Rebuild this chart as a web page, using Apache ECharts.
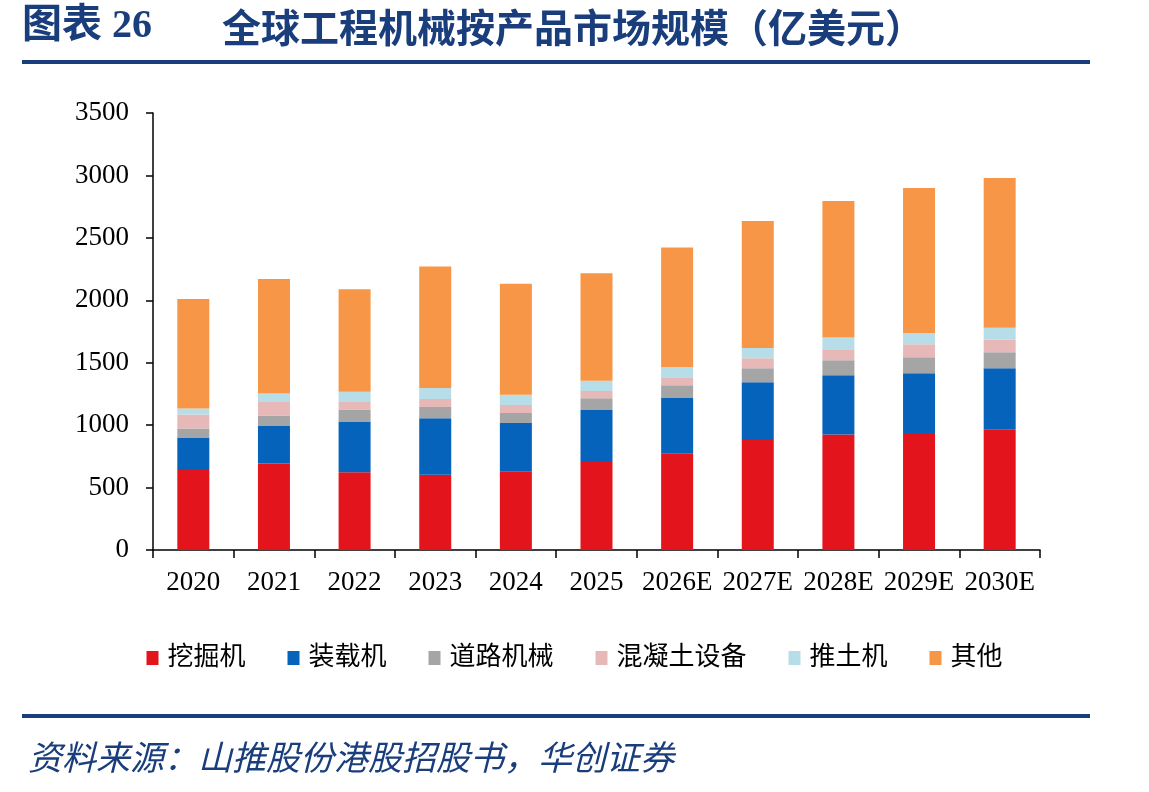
<!DOCTYPE html>
<html>
<head>
<meta charset="utf-8">
<script src="https://cdn.jsdelivr.net/npm/echarts@6/dist/echarts.min.js"></script>
<style>
  html, body { margin: 0; padding: 0; background: #fff; }
  #chart { width: 1149px; height: 792px; }
</style>
</head>
<body>
<div id="chart"></div>
<script>
// 年份
const years = ['2020', '2021', '2022', '2023', '2024', '2025', '2026E', '2027E', '2028E', '2029E', '2030E'];
// 各产品市场规模（亿美元）
const excavator = [640, 693, 623, 602, 627, 705, 774, 881, 926, 937, 964];
const loader    = [261, 304, 406, 454, 390, 416, 444, 462, 473, 478, 491];
const road      = [72, 81, 97, 89, 80, 94, 101, 112, 120, 128, 128];
const concrete  = [113, 107, 59, 64, 64, 59, 64, 80, 88, 104, 102];
const dozer     = [48, 69, 82, 88, 83, 82, 80, 83, 94, 91, 96];
const others    = [877, 916, 821, 973, 889, 860, 959, 1017, 1094, 1162, 1199];
const yTicks = [0, 500, 1000, 1500, 2000, 2500, 3000, 3500];

const names = ['挖掘机', '装载机', '道路机械', '混凝土设备', '推土机', '其他'];
const colors = ['#E3141C', '#0563BB', '#A5A5A5', '#E6B9B8', '#B7DEE8', '#F79646'];
const values = [excavator, loader, road, concrete, dozer, others];

const navy = '#1A3D7C';
const numFont = '"Liberation Serif", "Times New Roman", "Noto Sans CJK SC", serif';
const cjkFont = '"Liberation Serif", "Noto Sans CJK SC", sans-serif';

const myChart = echarts.init(document.getElementById('chart'));

const option = {
  animation: false,
  color: colors,
  graphic: [
    {
      type: 'text',
      left: 22,
      top: 7,
      style: {
        text: '图表 26',
        fill: navy,
        font: 'bold 40px "Liberation Serif", "Noto Sans CJK SC", sans-serif',
      },
    },
    {
      type: 'text',
      left: 222,
      top: 8,
      style: {
        text: '全球工程机械按产品市场规模（亿美元）',
        fill: navy,
        font: 'bold 39px "Noto Sans CJK SC", sans-serif',
      },
    },
    {
      type: 'line',
      shape: { x1: 22, y1: 62, x2: 1090, y2: 62 },
      style: { stroke: navy, lineWidth: 4 },
    },
    {
      type: 'line',
      shape: { x1: 22, y1: 716, x2: 1090, y2: 716 },
      style: { stroke: navy, lineWidth: 4 },
    },
    {
      type: 'text',
      left: 28,
      top: 740,
      style: {
        text: '资料来源：山推股份港股招股书，华创证券',
        fill: navy,
        font: 'italic 34px "Noto Sans CJK SC", sans-serif',
      },
    },
  ],
  legend: {
    top: 640,
    left: 'center',
    icon: 'rect',
    itemWidth: 12,
    itemHeight: 14,
    itemGap: 42,
    data: names,
    textStyle: {
      fontSize: 26,
      color: '#000',
      fontFamily: cjkFont,
      padding: [0, 0, 0, 4],
    },
  },
  grid: {
    left: 153,
    right: 109,
    top: 113,
    bottom: 242,
    containLabel: false,
  },
  xAxis: {
    type: 'category',
    data: years,
    axisLine: { lineStyle: { color: '#000', width: 1.5 } },
    axisTick: { show: true, length: 8, lineStyle: { color: '#000', width: 1.5 } },
    axisLabel: {
      color: '#000',
      fontSize: 27,
      fontFamily: numFont,
      margin: 19,
      interval: 0,
    },
  },
  yAxis: {
    type: 'value',
    min: yTicks[0],
    max: yTicks[yTicks.length - 1],
    interval: 500,
    splitLine: { show: false },
    axisLine: { show: true, lineStyle: { color: '#000', width: 1.5 } },
    axisTick: { show: true, length: 7, lineStyle: { color: '#000', width: 1.5 } },
    axisLabel: {
      color: '#000',
      fontSize: 27,
      fontFamily: numFont,
      margin: 24,
      formatter: (v) => String(v),
    },
  },
  series: [],
};

values.forEach((v, i) => {
  option.series.push({
    name: names[i],
    type: 'bar',
    stack: 'total',
    barWidth: 32,
    itemStyle: { color: colors[i] },
    data: v,
  });
});

myChart.setOption(option, true);
</script>
</body>
</html>
